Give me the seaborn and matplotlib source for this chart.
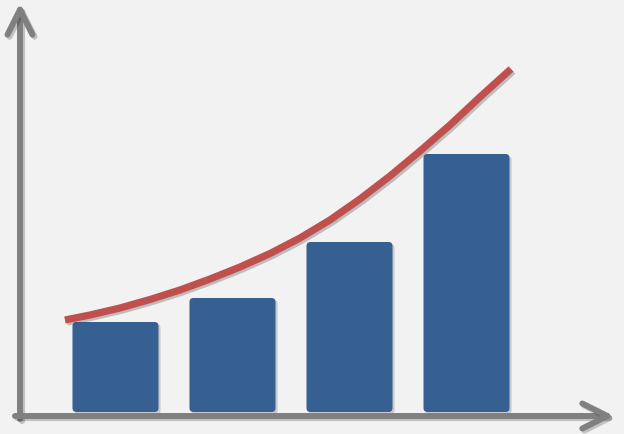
import matplotlib
matplotlib.use('Agg')
import matplotlib.pyplot as plt
import matplotlib.patheffects as pe
from matplotlib.patches import FancyBboxPatch
import seaborn as sns

# --- data ---
categories = ['A', 'B', 'C', 'D']
bar_values = [90, 114, 170, 258]

# trend curve (x in category units, y in bar units)
trend_x = [-0.432, -0.218, 0.038, 0.295, 0.551, 0.808, 1.064, 1.321,
           1.577, 1.833, 2.090, 2.346, 2.603, 2.859, 3.115, 3.380]
trend_y = [92, 97, 104, 112.5, 122, 133, 145, 158.5,
           174, 192, 213, 236, 261, 287, 315, 343]

BAR_COLOR = '#365f92'
LINE_COLOR = '#c0504d'
AXIS_COLOR = '#808080'
BG_COLOR = '#f2f2f2'

sns.set_style('white')

fig = plt.figure(figsize=(6.24, 4.35), dpi=100, facecolor=BG_COLOR)
ax = fig.add_axes([0, 0, 1, 1])
ax.set_facecolor(BG_COLOR)

sns.barplot(x=categories, y=bar_values, color=BAR_COLOR, saturation=1,
            width=0.735, ax=ax)

# x: 117 px per category, y: 1 px per unit
ax.set_xlim(-0.987, 4.346)
ax.set_ylim(-22, 413)

# swap the plain rectangles for rounded ones
shadow = [pe.SimplePatchShadow(offset=(1.5, -1.5), shadow_rgbFace='#555555', alpha=0.25),
          pe.Normal()]
bars = list(ax.patches)
for p in bars:
    x0, y0, w, h = p.get_x(), p.get_y(), p.get_width(), p.get_height()
    p.remove()
    rb = FancyBboxPatch((x0, y0), w, h,
                        boxstyle='round,pad=0,rounding_size=0.034',
                        mutation_aspect=117,
                        facecolor=BAR_COLOR, edgecolor='none', zorder=2)
    rb.set_path_effects(shadow)
    ax.add_patch(rb)

sns.lineplot(x=trend_x, y=trend_y, color=LINE_COLOR, linewidth=5.2, ax=ax,
             zorder=3, solid_capstyle='butt', solid_joinstyle='round',
             path_effects=[pe.SimpleLineShadow(offset=(1.5, -1.5), shadow_color='#444444', alpha=0.3),
                           pe.Normal()])

# axis arrows
arrow_kw = dict(arrowstyle='->,head_length=1.0,head_width=0.5', color=AXIS_COLOR,
                lw=4.3, mutation_scale=18, capstyle='round', joinstyle='round',
                shrinkA=0, shrinkB=0,
                path_effects=[pe.SimpleLineShadow(offset=(1.5, -1.5), alpha=0.2), pe.Normal()])
ax.annotate('', xy=(20 / 624, 1 - 4 / 435), xytext=(20 / 624, 1 - 420 / 435),
            xycoords='axes fraction', textcoords='axes fraction',
            arrowprops=arrow_kw, zorder=4)
ax.annotate('', xy=(614 / 624, 1 - 417 / 435), xytext=(15 / 624, 1 - 417 / 435),
            xycoords='axes fraction', textcoords='axes fraction',
            arrowprops=arrow_kw, zorder=4)

ax.set_axis_off()
fig.savefig('out.png', dpi=100, facecolor=BG_COLOR)
